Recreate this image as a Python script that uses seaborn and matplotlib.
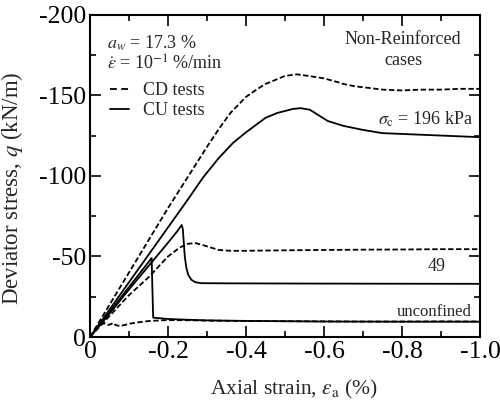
import numpy as np
import pandas as pd
import matplotlib
matplotlib.use("Agg")
import matplotlib.pyplot as plt
import seaborn as sns
from matplotlib.lines import Line2D

# ---------------- data ----------------
cd196_strain = [0, -0.05, -0.1, -0.15, -0.2, -0.25, -0.3, -0.333, -0.36, -0.4, -0.43, -0.45, -0.48,
                -0.5, -0.53, -0.56, -0.6, -0.63, -0.65, -0.68, -0.7, -0.75, -0.8, -0.85, -0.9, -0.95, -1.0]
cd196_q = [0, -20, -40, -60, -80, -99, -118, -130, -139, -149, -154, -157, -160,
           -162, -163, -162, -160.5, -158.5, -157, -155.5, -155, -153.5, -153, -153.5, -153.5, -154, -154]

cu196_strain = [0, -0.05, -0.1, -0.15, -0.2, -0.25, -0.29, -0.33, -0.367, -0.4, -0.45, -0.48, -0.52,
                -0.54, -0.564, -0.59, -0.61, -0.65, -0.7, -0.75, -0.8, -0.85, -0.9, -0.95, -1.0]
cu196_q = [0, -17, -34, -51, -68, -85, -99, -111, -120.5, -127, -136, -139, -141.5,
           -142, -141, -137, -134, -131, -128.5, -126.5, -126, -125.5, -125, -124.5, -124]

cd49_strain = [0, -0.05, -0.1, -0.15, -0.2, -0.23, -0.25, -0.27, -0.29, -0.31, -0.33, -0.36, -0.4,
               -0.5, -0.6, -0.7, -0.8, -0.9, -1.0]
cd49_q = [0, -13, -26, -37, -50, -55.5, -57.8, -58.3, -57, -55.5, -54, -53.5, -53.5,
          -53.8, -54, -54.2, -54.3, -54.5, -54.5]

cu49_strain = [0, -0.05, -0.1, -0.15, -0.2, -0.225, -0.235, -0.238, -0.243, -0.247, -0.252, -0.26,
               -0.27, -0.285, -0.35, -0.5, -0.7, -1.0]
cu49_q = [0, -14.5, -29.5, -44, -58.5, -66, -69.5, -67, -50, -43, -38.5, -35.5,
          -34, -33.4, -33.3, -33.2, -33.1, -33]

cuunc_strain = [0, -0.05, -0.1, -0.155, -0.158, -0.16, -0.162, -0.2, -0.25, -0.3, -0.4, -0.5, -0.6, -0.8, -1.0]
cuunc_q = [0, -15.5, -31, -48, -49, -30, -12, -11.2, -10.7, -10.3, -10, -9.8, -9.6, -9.5, -9.5]

cdunc_strain = [0, -0.015, -0.03, -0.038, -0.045, -0.052, -0.06, -0.065, -0.072, -0.08, -0.09, -0.1,
                -0.12, -0.15, -0.18, -0.2, -0.25, -0.3, -0.4, -0.5, -0.6, -0.7, -0.8, -0.9, -1.0]
cdunc_q = [0, -5, -8, -8.5, -7.5, -7.8, -8.8, -7.5, -7, -7, -7.5, -8.2,
           -9, -9.9, -10.3, -10.5, -10.4, -10.2, -9.9, -9.8, -9.7, -9.6, -9.6, -9.7, -9.6]

xticks = [0, -0.2, -0.4, -0.6, -0.8, -1.0]
xtick_labels = ['0', '-0.2', '-0.4', '-0.6', '-0.8', '-1.0']
yticks = [0, -50, -100, -150, -200]
ytick_labels = ['0', '-50', '-100', '-150', '-200']

# ---------------- style ----------------
sns.set_style("ticks")
plt.rcParams['font.family'] = ['Liberation Serif', 'DejaVu Serif']
plt.rcParams['mathtext.fontset'] = 'stix'
plt.rcParams['axes.unicode_minus'] = False

fig = plt.figure(figsize=(5.0, 4.08), dpi=100)
ax = fig.add_axes([0.18, 0.174, 0.78, 0.79])

dash = (0, (3, 1.4))
series = [
    (cd196_strain, cd196_q, dash),
    (cu196_strain, cu196_q, '-'),
    (cd49_strain, cd49_q, dash),
    (cu49_strain, cu49_q, '-'),
    (cdunc_strain, cdunc_q, dash),
    (cuunc_strain, cuunc_q, '-'),
]
for xs, ys, ls in series:
    df = pd.DataFrame({'strain': xs, 'q': ys})
    sns.lineplot(data=df, x='strain', y='q', ax=ax, color='black', sort=False,
                 estimator=None, linewidth=1.3, linestyle=ls)

ax.set_xlim(0, -1.0)
ax.set_ylim(0, -200)
ax.set_xticks(xticks)
ax.set_xticklabels(xtick_labels)
ax.set_yticks(yticks)
ax.set_yticklabels(ytick_labels)
ax.set_xticks([-0.1, -0.3, -0.5, -0.7, -0.9], minor=True)
ax.set_yticks([-25, -75, -125, -175], minor=True)
ax.tick_params(which='both', direction='in', top=True, right=True, width=1.2, labelsize=18.5, colors='black')
ax.tick_params(which='major', length=8, pad=3)
ax.tick_params(which='minor', length=4)
for s in ax.spines.values():
    s.set_linewidth(1.5)
    s.set_color('black')

ax.set_xlabel(r'Axial strain, $\varepsilon_\mathrm{a}$ (%)', fontsize=15.5)
ax.set_ylabel(r'Deviator stress, $q$ (kN/m)', fontsize=16.5)
ax.xaxis.set_label_coords(0.522, -0.128)
ax.yaxis.set_label_coords(-0.167, 0.463)

fs = 13
ax.text(-0.044, -182, r'$a_w$ = 17.3 %', fontsize=fs, va='center', ha='left')
ax.text(-0.044, -169, r'$\dot{\varepsilon}$ = 10$^{-1}$ %/min', fontsize=fs, va='center', ha='left')

handles = [Line2D([0], [0], color='black', lw=1.3, linestyle=(0, (3.8, 2.4))),
           Line2D([0], [0], color='black', lw=1.3, linestyle='-')]
leg = ax.legend(handles, ['CD tests', 'CU tests'], loc='upper left', bbox_to_anchor=(0.05, 0.79),
                frameon=False, fontsize=fs, handlelength=1.1, handletextpad=0.75, labelspacing=0.15,
                borderaxespad=0, borderpad=0)

ax.text(-0.803, -184.5, 'Non-Reinforced', fontsize=fs, va='center', ha='center')
ax.text(-0.803, -171.6, 'cases', fontsize=fs, va='center', ha='center')
ax.text(-0.738, -134.8, r'$\sigma_\mathrm{c}$ = 196 kPa', fontsize=fs, va='center', ha='left')
ax.text(-0.89, -43.5, '49', fontsize=fs, va='center', ha='center')
ax.text(-0.787, -15.5, 'unconfined', fontsize=12, va='center', ha='left')

fig.savefig('out.png', dpi=100)
